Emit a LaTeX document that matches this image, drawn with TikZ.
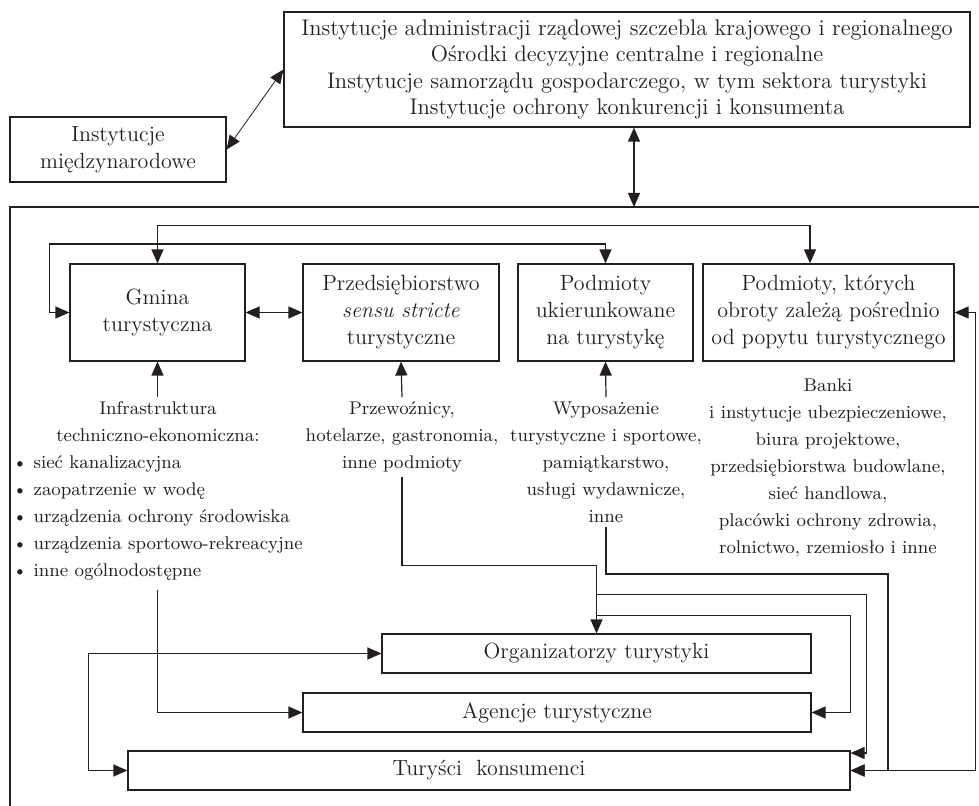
\documentclass[tikz,border=0pt]{standalone}
\usetikzlibrary{arrows.meta,calc}
\definecolor{ink}{RGB}{35,31,32}
\tikzset{
  box/.style={draw,align=center,inner sep=0pt,font=\fontsize{11}{13.5}\selectfont},
  txt/.style={align=center,inner sep=2pt,font=\fontsize{9.2}{13.5}\selectfont},
}

\begin{document}
\begin{tikzpicture}[x=0.5pt,y=-0.5pt,color=ink,line width=0.6pt,>={Triangle[length=7pt,width=6pt]}]
  \useasboundingbox (0,0) rectangle (979,806);
  % outer frame
  \draw (10,806) -- (10,207) -- (979,207);
  \coordinate (ft) at (634,207);

  \node[box,minimum width=343pt,minimum height=57.5pt,font=\fontsize{11.3}{13.25}\selectfont] (inst) at (627,69.5)
    {Instytucje administracji rządowej szczebla krajowego i regionalnego\\Ośrodki decyzyjne centralne i regionalne\\Instytucje samorządu gospodarczego, w tym sektora turystyki\\Instytucje ochrony konkurencji i konsumenta};
  \node[box,minimum width=108pt,minimum height=32.5pt] (intl) at (118,149.5) {Instytucje\\międzynarodowe};

  \node[box,minimum width=87.5pt,minimum height=48.5pt] (gmina) at (157.5,312.5) {Gmina\\turystyczna};
  \node[box,minimum width=98pt,minimum height=48.5pt] (przeds) at (401,312.5) {Przedsiębiorstwo\\\textit{sensu stricte}\\turystyczne};
  \node[box,minimum width=87.5pt,minimum height=48.5pt] (ukier) at (605.5,312.5) {Podmioty\\ukierunkowane\\na turystykę};
  \node[box,minimum width=125.5pt,minimum height=48.5pt] (obroty) at (828.5,312.5) {Podmioty, których\\obroty zależą pośrednio\\od popytu turystycznego};

  \node[txt,anchor=north] (infra) at (158,397) {Infrastruktura\\techniczno-ekonomiczna:};
  \node[txt,anchor=north west,align=left] (infralist) at (8,451)
    {\textbullet\ sieć kanalizacyjna\\\textbullet\ zaopatrzenie w wodę\\\textbullet\ urządzenia ochrony środowiska\\\textbullet\ urządzenia sportowo-rekreacyjne\\\textbullet\ inne ogólnodostępne};
  \node[txt,anchor=north] (przew) at (402,397) {Przewoźnicy,\\hotelarze, gastronomia,\\inne podmioty};
  \node[txt,anchor=north] (wyp) at (606,397) {Wyposażenie\\turystyczne i sportowe,\\pamiątkarstwo,\\usługi wydawnicze,\\inne};
  \node[txt,anchor=north] (banki) at (828,374) {Banki\\i instytucje ubezpieczeniowe,\\biura projektowe,\\przedsiębiorstwa budowlane,\\sieć handlowa,\\placówki ochrony zdrowia,\\rolnictwo, rzemiosło i inne};

  \node[box,minimum width=214.5pt,minimum height=19.5pt] (org) at (596.5,653.5) {Organizatorzy turystyki};
  \node[box,minimum width=254pt,minimum height=19.5pt] (agen) at (557,712.5) {Agencje turystyczne};
  \node[box,minimum width=361pt,minimum height=19.5pt] (tur) at (489,770.5) {Turyści\ \ konsumenci};

  % upper part
  \draw[<->,line width=0.4pt] (intl.east) -- (inst.west);
  \draw[<->] (inst.south -| ft) -- (ft);
  \draw[<->] (gmina.north) -- ++(0,-38) -| ($(obroty.north)+(-18.5,0)$);
  \draw[<->] (gmina.west) -| ++(-20,-68.5) -| (ukier.north);
  \draw[<->] (gmina) -- (przeds);
  \draw[<->] (obroty.east) -- ++(21,0) |- (tur.east);

  \draw[->] (infra.north -| gmina) -- (gmina.south);
  \draw[->] (przew.north) -- (przeds.south);
  \draw[->] (wyp.north) -- (ukier.south);

  % lower part
  \draw[->] (przew.south) |- ($(org.north)+(0,-68)$) -- (org.north);
  \draw[->] ($(org.north)+(0,-39)$) -| ($(tur.east)+(16,-17.5)$) -- ($(tur.east)+(0,-17.5)$);
  \draw[->] ($(org.north)+(0,-18)$) -| ($(agen.east)+(39,0)$) -- (agen.east);
  \draw[->] (wyp.south) |- (888,574) |- (tur.east);
  \draw[->] ($(infralist.south -| gmina)+(0,5)$) |- (agen.west);
  \draw[<->] (org.west) -- ++(-293,0) |- (tur.west);
\end{tikzpicture}
\end{document}
